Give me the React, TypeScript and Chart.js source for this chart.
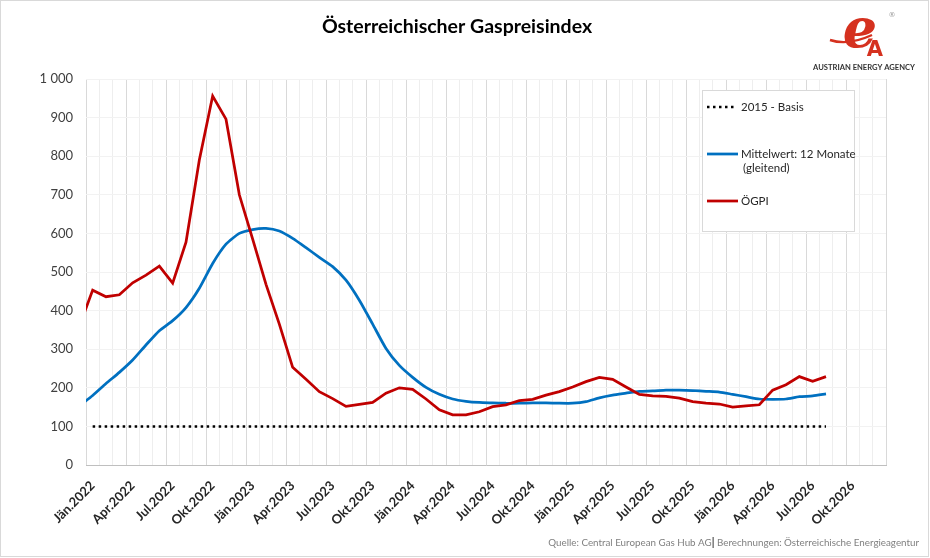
import React, { useEffect, useRef } from 'react';
import { Chart, registerables } from 'chart.js';

Chart.register(...registerables);

// Quarter labels on the month axis (Jän.2022 … Okt.2026)
const quarterLabels = [
  'Jän.2022', 'Apr.2022', 'Jul.2022', 'Okt.2022',
  'Jän.2023', 'Apr.2023', 'Jul.2023', 'Okt.2023',
  'Jän.2024', 'Apr.2024', 'Jul.2024', 'Okt.2024',
  'Jän.2025', 'Apr.2025', 'Jul.2025', 'Okt.2025',
  'Jän.2026', 'Apr.2026', 'Jul.2026', 'Okt.2026',
];
const monthCount = 60;

// Value of the month before the first axis month (line runs in from the left edge)
const ogpiPrev = 359;
const mittelPrev = 153;

// ÖGPI, monthly from Jän.2022
const ogpi = [
  453, 436, 441, 472, 492, 515, 471, 577, 790, 956, 896, 700,
  585, 468, 365, 253, 222, 190, 172, 152, 157, 162, 186, 200,
  196, 171, 143, 130, 130, 138, 151, 156, 167, 170, 181, 190,
  202, 216, 227, 222, 202, 183, 179, 178, 173, 164, 160, 158,
  150, 153, 156, 194, 208, 229, 217, 229,
];

// Mittelwert: 12 Monate (gleitend)
const mittel = [
  180, 211, 240, 272, 311, 348, 374, 408, 458, 522, 572, 600,
  610, 613, 606, 587, 563, 538, 514, 479, 427, 365, 302, 258,
  227, 201, 183, 171, 165, 162, 161, 160, 160, 161, 161, 160,
  160, 164, 174, 181, 186, 191, 192, 194, 194, 193, 191, 189,
  183, 177, 171, 170, 171, 177, 179, 184,
];

// 2015 - Basis
const basis = [
  100, 100, 100, 100, 100, 100, 100, 100, 100, 100, 100, 100,
  100, 100, 100, 100, 100, 100, 100, 100, 100, 100, 100, 100,
  100, 100, 100, 100, 100, 100, 100, 100, 100, 100, 100, 100,
  100, 100, 100, 100, 100, 100, 100, 100, 100, 100, 100, 100,
  100, 100, 100, 100, 100, 100, 100, 100,
];

const RED = '#C00000';
const BLUE = '#0070C0';
const FONT = 'Lato';

const toPoints = (values: number[], prev?: number) => {
  const pts = values.map((y, i) => ({ x: i, y }));
  return prev === undefined ? pts : [{ x: -1, y: prev }, ...pts];
};

// ticks every half month: boundaries carry grid lines, month centres carry labels
const xTickValues: number[] = [];
for (let v = -0.5; v <= monthCount - 0.5; v += 0.5) xTickValues.push(v);

const decorations = {
  id: 'decorations',
  beforeDraw(chart: any) {
    const { ctx, width, height } = chart;
    ctx.save();
    ctx.fillStyle = '#ffffff';
    ctx.fillRect(0, 0, width, height);
    ctx.restore();
  },
  afterDraw(chart: any) {
    const ctx: CanvasRenderingContext2D = chart.ctx;
    ctx.save();

    // outer frame
    ctx.strokeStyle = '#d9d9d9';
    ctx.lineWidth = 1;
    ctx.strokeRect(0.5, 0.5, 928, 556);

    // title
    ctx.fillStyle = '#000000';
    ctx.font = `bold 19.5px ${FONT}`;
    ctx.textAlign = 'center';
    ctx.textBaseline = 'alphabetic';
    ctx.fillText('Österreichischer Gaspreisindex', 457, 33);

    // logo
    ctx.fillStyle = '#d5311f';
    ctx.strokeStyle = '#d5311f';
    ctx.lineWidth = 2.4;
    ctx.beginPath();
    ctx.moveTo(830, 40);
    ctx.quadraticCurveTo(848, 46, 872, 35);
    ctx.stroke();
    ctx.font = 'italic bold 54px "DejaVu Serif"';
    ctx.textAlign = 'center';
    ctx.fillText('e', 860, 47);
    ctx.font = 'bold 21px "DejaVu Sans"';
    ctx.fillText('A', 875, 56);
    ctx.fillStyle = '#9a9a9a';
    ctx.font = '7px "DejaVu Sans"';
    ctx.fillText('®', 892, 17);
    ctx.fillStyle = '#333333';
    ctx.font = `bold 7.6px ${FONT}`;
    ctx.fillText('AUSTRIAN ENERGY AGENCY', 864, 70);

    // legend box
    ctx.fillStyle = '#ffffff';
    ctx.fillRect(702, 90, 152, 141);
    ctx.strokeStyle = '#d9d9d9';
    ctx.lineWidth = 1;
    ctx.strokeRect(702.5, 90.5, 152, 141);

    ctx.lineCap = 'butt';
    // dotted sample
    ctx.strokeStyle = '#000000';
    ctx.lineWidth = 2.5;
    ctx.setLineDash([2.5, 3.5]);
    ctx.beginPath();
    ctx.moveTo(707, 107);
    ctx.lineTo(737, 107);
    ctx.stroke();
    ctx.setLineDash([]);
    // blue sample
    ctx.strokeStyle = BLUE;
    ctx.lineWidth = 2.75;
    ctx.beginPath();
    ctx.moveTo(707, 154);
    ctx.lineTo(738, 154);
    ctx.stroke();
    // red sample
    ctx.strokeStyle = RED;
    ctx.beginPath();
    ctx.moveTo(707, 201);
    ctx.lineTo(738, 201);
    ctx.stroke();

    ctx.fillStyle = '#262626';
    ctx.font = `11.5px ${FONT}`;
    ctx.textAlign = 'left';
    ctx.textBaseline = 'middle';
    ctx.fillText('2015 - Basis', 741, 107);
    ctx.fillText('Mittelwert: 12 Monate', 741, 154);
    ctx.fillText('(gleitend)', 743, 168);
    ctx.fillText('ÖGPI', 741, 201);

    // source line
    ctx.textBaseline = 'alphabetic';
    ctx.textAlign = 'right';
    const right = 919;
    const part2 = ' Berechnungen: Österreichische Energieagentur';
    const part1 = 'Quelle: Central European Gas Hub AG';
    ctx.font = `9.8px ${FONT}`;
    const w2 = ctx.measureText(part2).width;
    ctx.fillStyle = '#808080';
    ctx.fillText(part2, right, 546);
    ctx.font = `bold 10.5px ${FONT}`;
    ctx.fillStyle = '#404040';
    const wBar = ctx.measureText('|').width;
    ctx.fillText('|', right - w2, 546);
    ctx.font = `9.8px ${FONT}`;
    ctx.fillStyle = '#808080';
    ctx.fillText(part1, right - w2 - wBar, 546);

    ctx.restore();
  },
};

export default function App() {
  const canvasRef = useRef<HTMLCanvasElement | null>(null);

  useEffect(() => {
    const canvas = canvasRef.current;
    if (!canvas) return;

    const chart = new Chart(canvas, {
      type: 'line',
      data: {
        datasets: [
          {
            label: 'ÖGPI',
            data: toPoints(ogpi, ogpiPrev),
            borderColor: RED,
            backgroundColor: RED,
            borderWidth: 2.75,
            pointRadius: 0,
            tension: 0,
            clip: 0,
          },
          {
            label: 'Mittelwert: 12 Monate (gleitend)',
            data: toPoints(mittel, mittelPrev),
            borderColor: BLUE,
            backgroundColor: BLUE,
            borderWidth: 2.75,
            pointRadius: 0,
            tension: 0.2,
            clip: 0,
          },
          {
            label: '2015 - Basis',
            data: toPoints(basis),
            borderColor: '#000000',
            backgroundColor: '#000000',
            borderWidth: 2.5,
            borderDash: [2.5, 3.5],
            pointRadius: 0,
            tension: 0,
            clip: 0,
          },
        ],
      } as any,
      options: {
        responsive: false,
        animation: false,
        devicePixelRatio: 1,
        layout: { padding: { top: 79, right: 44, left: 0, bottom: 0 } },
        plugins: {
          legend: { display: false },
          title: { display: false },
          tooltip: { enabled: false },
        },
        scales: {
          x: {
            type: 'linear',
            min: -0.5,
            max: monthCount - 0.5,
            afterBuildTicks: (scale: any) => {
              scale.ticks = xTickValues.map((value) => ({ value }));
            },
            afterFit: (scale: any) => {
              scale.height = 93;
            },
            ticks: {
              autoSkip: false,
              minRotation: 45,
              maxRotation: 45,
              padding: 13,
              color: '#262626',
              font: { family: FONT, size: 13, weight: 'bold' },
              callback: (value: any) => {
                const n = Number(value);
                if (Number.isInteger(n) && n % 3 === 0) return quarterLabels[n / 3] ?? '';
                return '';
              },
            },
            grid: {
              drawTicks: false,
              lineWidth: 1,
              color: (c: any) => {
                const v = c.tick ? c.tick.value : 0;
                if (Number.isInteger(v)) return 'rgba(0,0,0,0)';
                return (v + 0.5) % 3 === 0 ? '#d9d9d9' : '#eeeeee';
              },
            },
            border: { display: true, color: '#bfbfbf', width: 1 },
          },
          y: {
            min: 0,
            max: 1000,
            afterFit: (scale: any) => {
              scale.width = 86;
            },
            ticks: {
              stepSize: 100,
              padding: 13,
              color: '#404040',
              font: { family: FONT, size: 13 },
              callback: (value: any) =>
                String(value).replace(/\B(?=(\d{3})+(?!\d))/g, ' '),
            },
            grid: { drawTicks: false, color: '#f2f2f2', lineWidth: 1 },
            border: { display: false },
          },
        },
      } as any,
      plugins: [decorations],
    });

    return () => chart.destroy();
  }, []);

  return (
    <div style={{ position: 'fixed', left: 0, top: 0, width: 930, height: 558, background: '#fff' }}>
      <canvas ref={canvasRef} width={930} height={558} style={{ display: 'block' }} />
    </div>
  );
}
